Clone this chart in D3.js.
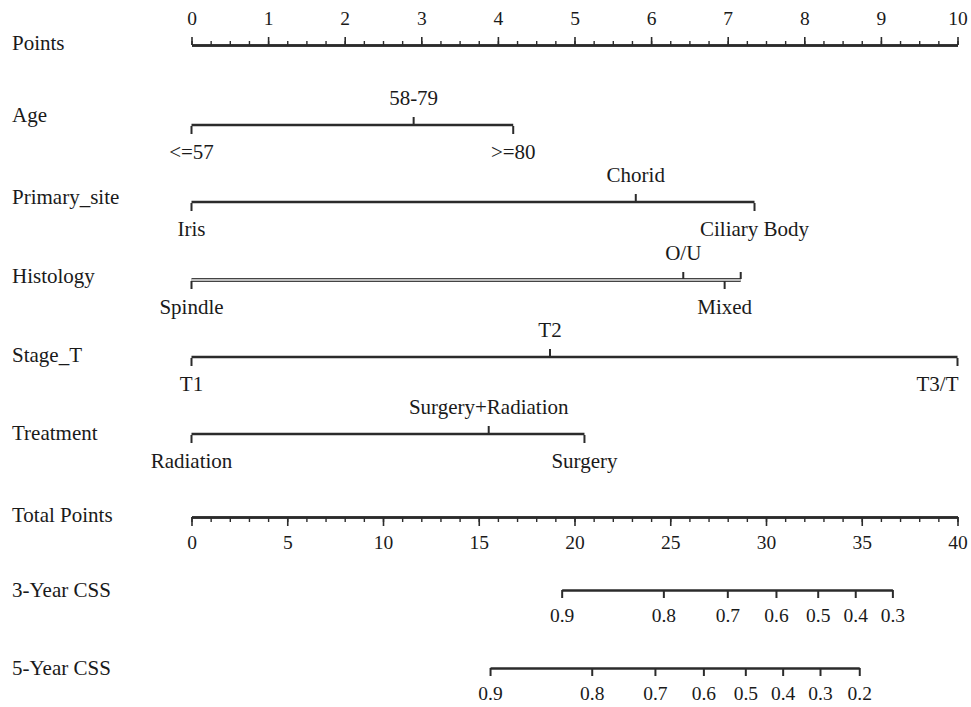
<!DOCTYPE html>
<html><head><meta charset="utf-8">
<script src="https://cdn.jsdelivr.net/npm/d3@7"></script>
<style>
body{margin:0;background:#fff}
svg text{font-family:"Liberation Serif","Times New Roman",serif;fill:#1a1a1a}
</style>
</head><body>
<svg id="c" width="971" height="707" font-family="Liberation Serif, serif"></svg>
<script>
// ---- data ----
const pointsMajor = [0,1,2,3,4,5,6,7,8,9,10];
const totalMajor = [0,5,10,15,20,25,30,35,40];

const ageLevels = ["<=57","58-79",">=80"];
const agePoints = [0,2.9,4.2];

const siteLevels = ["Iris","Chorid","Ciliary Body"];
const sitePoints = [0,5.8,7.35];

const histLevels = ["Spindle","O/U","Mixed",""];
const histPoints = [0,6.42,6.96,7.17];

const stageLevels = ["T1","T2","T3/T"];
const stagePoints = [0,4.68,10];

const treatLevels = ["Radiation","Surgery+Radiation","Surgery"];
const treatPoints = [0,3.88,5.13];

const css3Labels = ["0.9","0.8","0.7","0.6","0.5","0.4","0.3"];
const css3Total  = [19.33,24.64,27.98,30.52,32.7,34.66,36.6];

const css5Labels = ["0.9","0.8","0.7","0.6","0.5","0.4","0.3","0.2"];
const css5Total  = [15.59,20.9,24.2,26.73,28.92,30.87,32.82,34.87];

// ---- layout ----
const svg = d3.select("#c");
const X0 = 191.5, X1 = 957.5;
const xP = d3.scaleLinear().domain([0,10]).range([X0,X1]);
const xT = d3.scaleLinear().domain([0,40]).range([X0,X1]);
const FS = 21, FN = 19.5, INK = "#2b2b2b", LW = 2.4, FF = "Liberation Serif, serif";

function rowLabel(text, y){
  svg.append("text").attr("x",12).attr("y",y).attr("dy","0.35em")
    .attr("font-size",FS).text(text);
}
function styleAxis(g, tw, ty){
  g.attr("font-family",FF);
  g.selectAll(".domain").attr("stroke",INK).attr("stroke-width",LW);
  g.selectAll(".tick line").attr("stroke",INK).attr("stroke-width",tw);
  g.selectAll(".tick text").attr("font-size",FN).attr("y",ty).attr("dy","0.35em").attr("fill","#1a1a1a");
}

// Points axis
const yPts = 45;
rowLabel("Points", yPts-2);
const gPm = svg.append("g").attr("transform",`translate(0,${yPts})`)
  .call(d3.axisTop(xP).tickValues(d3.range(0,10.001,0.25)).tickSize(4).tickSizeOuter(0).tickFormat(""));
styleAxis(gPm,1.4,0);
const gP = svg.append("g").attr("transform",`translate(0,${yPts})`)
  .call(d3.axisTop(xP).tickValues(pointsMajor).tickSize(8).tickSizeOuter(0).tickFormat(d3.format("d")));
styleAxis(gP,1.6,-27);

// variable rows
function varRow(name, levels, pts, y, labelY, dbl){
  rowLabel(name, labelY);
  const g = svg.append("g").attr("transform",`translate(0,${y})`);
  const lo = d3.min(pts), hi = d3.max(pts);
  if(dbl){
    g.append("line").attr("x1",xP(lo)).attr("x2",xP(hi)).attr("stroke","#444").attr("stroke-width",4);
    g.append("line").attr("x1",xP(lo)).attr("x2",xP(hi)).attr("stroke","#e6e6e6").attr("stroke-width",1.4);
  } else {
    g.append("line").attr("x1",xP(lo)).attr("x2",xP(hi)).attr("stroke",INK).attr("stroke-width",LW);
  }
  levels.forEach((lab,i)=>{
    const up = i%2===1;
    const x = xP(pts[i]);
    g.append("line").attr("x1",x).attr("x2",x).attr("y1",up?-1:1).attr("y2",up?-8:9)
      .attr("stroke",INK).attr("stroke-width",2);
    const atEdge = pts[i] >= 10;
    g.append("text").attr("x",atEdge ? x+1 : x).attr("y",up?-27:27).attr("dy","0.35em")
      .attr("text-anchor",atEdge?"end":"middle").attr("font-size",FS).text(lab);
  });
}
varRow("Age", ageLevels, agePoints, 125, 115);
varRow("Primary_site", siteLevels, sitePoints, 202, 197);
varRow("Histology", histLevels, histPoints, 280, 276, true);
varRow("Stage_T", stageLevels, stagePoints, 357, 355);
varRow("Treatment", treatLevels, treatPoints, 434, 433);

// Total points
const yTot = 517;
rowLabel("Total Points", yTot-2);
const gTm = svg.append("g").attr("transform",`translate(0,${yTot})`)
  .call(d3.axisBottom(xT).tickValues(d3.range(0,40.001,1)).tickSize(5).tickSizeOuter(0).tickFormat(""));
styleAxis(gTm,1.4,0);
const gT = svg.append("g").attr("transform",`translate(0,${yTot})`)
  .call(d3.axisBottom(xT).tickValues(totalMajor).tickSize(9).tickSizeOuter(0).tickFormat(d3.format("d")));
styleAxis(gT,1.6,25);

// CSS axes
function cssRow(name, labels, totals, y){
  rowLabel(name, y);
  const lo = d3.min(totals), hi = d3.max(totals);
  const sub = d3.scaleLinear().domain([lo,hi]).range([xT(lo),xT(hi)]);
  const g = svg.append("g").attr("transform",`translate(0,${y})`)
    .call(d3.axisBottom(sub).tickValues(totals).tickSize(8).tickSizeOuter(0).tickFormat((d,i)=>labels[i]));
  styleAxis(g,2,25);
}
cssRow("3-Year CSS", css3Labels, css3Total, 590);
cssRow("5-Year CSS", css5Labels, css5Total, 668);
</script>
</body></html>
